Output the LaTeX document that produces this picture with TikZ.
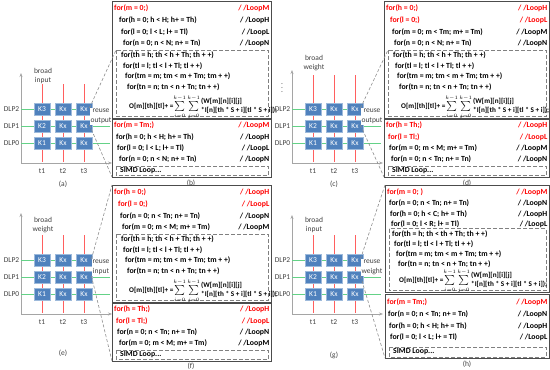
\documentclass[tikz,border=0pt]{standalone}
\usepackage{fontspec}
\setmainfont{Carlito}
\usetikzlibrary{arrows.meta}

\definecolor{peblue}{RGB}{79,129,189}
\definecolor{bcred}{RGB}{255,95,95}
\definecolor{dlpgreen}{RGB}{100,210,135}
\definecolor{codered}{RGB}{255,0,0}
\definecolor{axisgray}{RGB}{165,165,165}
\definecolor{labgray}{RGB}{64,64,64}

\newcommand{\codefont}{\fontsize{7.8}{8}\selectfont\bfseries}
\newcommand{\formfont}{\fontsize{7.2}{8}\selectfont\bfseries}
\newcommand{\labfont}{\fontsize{7.5}{9.5}\selectfont}
% output update, same in all four loop nests
\newcommand{\convsum}{O[m][th][tl]+ =$\scriptstyle\sum\limits_{i=0}^{k-1}\sum\limits_{j=0}^{k-1}$\,{\def\arraystretch{1.15}\begin{tabular}{@{}l@{}}(W[m][n][i][j]\\{}*I[n][th * S + i][tl * S + i]);\end{tabular}}}

\tikzset{
  pe/.style={rectangle, fill=peblue, draw=peblue!55!white, line width=0.5pt,
    minimum width=16pt, minimum height=11.5pt, inner sep=0pt, text=white, font=\labfont},
  lab/.style={font=\labfont, text=labgray, inner sep=1pt},
  code/.style={anchor=west, inner sep=0pt, font=\codefont},
  loopc/.style={anchor=east, inner sep=0pt, font=\codefont},
  hot/.style={text=codered},
  cold/.style={},
  outerbox/.style={draw=black!70, line width=0.9pt},
  innerbox/.style={draw=black!50, line width=0.9pt, dash pattern=on 4pt off 2pt},
  zoomline/.style={draw=black!45, line width=0.6pt, dash pattern=on 3pt off 2pt},
  axisline/.style={draw=axisgray, line width=0.8pt, -{Stealth[length=4pt,width=3pt]}},
  bcast/.style={draw=bcred, line width=1pt},
  dlp/.style={draw=dlpgreen, line width=1pt},
}

\begin{document}
\begin{tikzpicture}[x=1pt,y=-1pt]
\useasboundingbox (0,0) rectangle (550,370);

% PE arrays (a) (c) (e) (g)
\foreach \p/\dx/\dy/\bword/\rword/\ly/\rt/\yt in {a/0/0/input/output/71/84/73,
    c/271/0/weight/output/58/75/70, e/0/151/weight/input/69/84/62,
    g/271/151/input/weight/69/84/64} {
  \begin{scope}[shift={(\dx,\dy)}]
    \coordinate (\p-o) at (21,163);
    \coordinate (\p-ytip) at (21,\yt);
    \coordinate (\p-xtip) at (112,163);
    \draw[axisline] (\p-o) -- (\p-ytip);
    \draw[axisline] (\p-o) -- (\p-xtip);
    \node[lab] (\p-b1) at (43,\ly) {broad};
    \node[lab] (\p-b2) at (43,\ly+9.5) {\bword};
    \foreach \c/\xx in {1/42,2/63,3/84} {
      \coordinate (\p-top\c) at (\xx,\rt);
      \coordinate (\p-bot\c) at (\xx,162);
      \draw[bcast] (\p-top\c) -- (\p-bot\c);
      \node[lab] (\p-t\c) at (\xx,171.5) {t\c};
    }
    \foreach \r/\yy/\k in {2/109/K3,1/126/K2,0/143/K1} {
      \node[lab,anchor=east] (\p-dlp\r) at (20.5,\yy) {DLP\r};
      \coordinate (\p-end\r) at (110,\yy);
      \draw[dlp] (\p-o |- \p-dlp\r) -- (\p-end\r);
      \node[pe] (\p-k\r1) at (42,\yy) {\k};
      \node[pe] (\p-k\r2) at (63,\yy) {Kx};
      \node[pe] (\p-k\r3) at (84,\yy) {Kx};
    }
    \node[lab,fill=white,align=center,inner sep=1pt] (\p-ru) at (101,116.5) {reuse\\\rword};
  \end{scope}
}
\node[lab] (c-dots) at (282,85) {$\vdots$};

% captions
\node[lab] (a-cap) at (63,184) {(a)};
\node[lab] (b-cap) at (191,183) {(b)};
\node[lab] (c-cap) at (334,184) {(c)};
\node[lab] (d-cap) at (467,183) {(d)};
\node[lab] (e-cap) at (63,353) {(e)};
\node[lab] (f-cap) at (191,366) {(f)};
\node[lab] (g-cap) at (334,355) {(g)};
\node[lab] (h-cap) at (467,364) {(h)};

% (b) loop nest
\draw[outerbox] (112,1) rectangle (271,118);
\draw[outerbox] (112,119.5) rectangle (271,177);
\draw[innerbox] (116,50) rectangle (268,116.5);
\draw[innerbox] (116,166) rectangle (268,175.5);
\foreach \xx/\yy/\txt/\lp/\sty [count=\i] in {
    114/8/for(m = 0;)/M/hot, 119/20/for(h = 0; h < H; h+ = Th)/H/cold,
    121/32/for(l = 0; l < L; l+ = Tl)/L/cold, 123/43.5/for(n = 0; n < N; n+ = Tn)/N/cold,
    114/125/for(m = Tm;)/M/hot, 116/137/for(h = 0; h < H; h+ = Th)/H/cold,
    117/148/for(l = 0; l < L; l+ = Tl)/L/cold, 119/159/for(n = 0; n < N; n+ = Tn)/N/cold} {
  \node[code,\sty] (b-l\i) at (\xx,\yy) {\txt};
  \node[loopc,\sty] (b-c\i) at (269.5,\yy) {/ /Loop\lp};
}
\foreach \xx/\yy/\txt [count=\i] in {121/55.5/for(th = h; th < h + Th; th + +),
    123/66/for(tl = l; tl < l + Tl; tl + +), 125/76.5/for(tm = m; tm < m + Tm; tm + +),
    127/87/for(tn = n; tn < n + Tn; tn + +)}
  \node[code] (b-i\i) at (\xx,\yy) {\txt};
\node[code,font=\formfont] (b-f) at (129,107.5) {\convsum};
\node[code] (b-simd) at (120,171) {SIMD Loop...};

% (d) loop nest
\draw[outerbox] (384,1) rectangle (549,118);
\draw[outerbox] (384,119.5) rectangle (549,177);
\draw[innerbox] (388,50) rectangle (546,116.5);
\draw[innerbox] (388,166) rectangle (546,175.5);
\foreach \xx/\yy/\txt/\lp/\sty [count=\i] in {
    386/8/for(h = 0;)/H/hot, 390/20/for(l = 0;)/L/hot,
    392/32/for(m = 0; m < Tm; m+ = Tm)/M/cold, 394/43.5/for(n = 0; n < N; n+ = Tn)/N/cold,
    386/125/for(h = Th;)/H/hot, 388/137/for(l = Tl;)/L/hot,
    389/148/for(m = 0; m < M; m+ = Tm)/M/cold, 391/159/for(n = 0; n < Tn; n+ = Tn)/N/cold} {
  \node[code,\sty] (d-l\i) at (\xx,\yy) {\txt};
  \node[loopc,\sty] (d-c\i) at (547.5,\yy) {/ /Loop\lp};
}
\foreach \xx/\yy/\txt [count=\i] in {393/55.5/for(th = h; th < h + Th; th + +),
    395/66/for(tl = l; tl < l + Tl; tl + +), 397/76.5/for(tm = m; tm < m + Tm; tm + +),
    399/87/for(tn = n; tn < n + Tn; tn + +)}
  \node[code] (d-i\i) at (\xx,\yy) {\txt};
\node[code,font=\formfont] (d-f) at (401,107.5) {\convsum};
\node[code] (d-simd) at (392,171) {SIMD Loop...};

% (f) loop nest
\begin{scope}[shift={(0,184)}]
\draw[outerbox] (112,1) rectangle (271,118);
\draw[outerbox] (112,119.5) rectangle (271,177);
\draw[innerbox] (116,50) rectangle (268,116.5);
\draw[innerbox] (116,166) rectangle (268,175.5);
\foreach \xx/\yy/\txt/\lp/\sty [count=\i] in {
    114/8/for(h = 0;)/H/hot, 118/20/for(l = 0;)/L/hot,
    120/32/for(n = 0; n < Tn; n+ = Tn)/N/cold, 122/43.5/for(m = 0; m < M; m+ = Tm)/M/cold,
    114/125/for(h = Th;)/H/hot, 116/137/for(l = Tl;)/L/hot,
    117/148/for(n = 0; n < Tn; n+ = Tn)/N/cold, 119/159/for(m = 0; m < M; m+ = Tm)/M/cold} {
  \node[code,\sty] (f-l\i) at (\xx,\yy) {\txt};
  \node[loopc,\sty] (f-c\i) at (269.5,\yy) {/ /Loop\lp};
}
\foreach \xx/\yy/\txt [count=\i] in {121/55.5/for(th = h; th < h + Th; th + +),
    123/66/for(tl = l; tl < l + Tl; tl + +), 125/76.5/for(tm = m; tm < m + Tm; tm + +),
    127/87/for(tn = n; tn < n + Tn; tn + +)}
  \node[code] (f-i\i) at (\xx,\yy) {\txt};
\node[code,font=\formfont] (f-f) at (129,107.5) {\convsum};
\node[code] (f-simd) at (120,171) {SIMD Loop...};
\end{scope}

% (h) loop nest
\draw[outerbox] (385,185) rectangle (549,292);
\draw[outerbox] (385,294.5) rectangle (549,358);
\draw[innerbox] (389,228.5) rectangle (546,290.5);
\draw[innerbox] (389,347) rectangle (546,357);
\foreach \xx/\yy/\txt/\lp/\sty [count=\i] in {
    387/192/for(m = 0; )/M/hot, 389/203/for(n = 0; n < Tn; n+ = Tn)/N/cold,
    390/214/for(h = 0; h < C; h+ = Th)/H/cold, 391/224.5/for(l = 0; l < R; l+ = Tl)/L/cold,
    387/302/for(m = Tm;)/M/hot, 388/314/for(n = 0; n < Tn; n+ = Tn)/N/cold,
    389/326/for(h = 0; h < H; h+ = Th)/H/cold, 390/337/for(l = 0; l < L; l+ = Tl)/L/cold} {
  \node[code,\sty] (h-l\i) at (\xx,\yy) {\txt};
  \node[loopc,\sty] (h-c\i) at (547.5,\yy) {/ /Loop\lp};
}
\foreach \xx/\yy/\txt [count=\i] in {392/234/for(th = h; th < th + Th; th + +),
    394/244/for(tl = l; tl < l + Tl; tl + +), 396/254/for(tm = m; tm < m + Tm; tm + +),
    398/264/for(tn = n; tn < n + Tn; tn + +)}
  \node[code] (h-i\i) at (\xx,\yy) {\txt};
\node[code,font=\formfont] (h-f) at (399,281.5) {\convsum};
\node[code] (h-simd) at (393,352) {SIMD Loop...};

% zoom-in lines from PE arrays to loop nests
\coordinate (b-in) at (116,50);
\coordinate (b-low) at (112,177);
\coordinate (d-in) at (388,50);
\coordinate (d-low) at (384,177);
\coordinate (f-top) at (112,185);
\coordinate (f-low) at (112,361);
\coordinate (h-top) at (385,185);
\coordinate (h-low) at (385,358);
\draw[zoomline] (a-ru.north west) -- (b-in);
\draw[zoomline] (a-ru.south west) -- (b-low);
\draw[zoomline] (c-ru.north west) -- (d-in);
\draw[zoomline] (c-ru.south west) -- (d-low);
\draw[zoomline] (e-ru.north west) -- (f-top);
\draw[zoomline] (e-ru.south west) -- (f-low);
\draw[zoomline] (g-ru.north west) -- (h-top);
\draw[zoomline] (g-ru.south west) -- (h-low);
\end{tikzpicture}
\end{document}
